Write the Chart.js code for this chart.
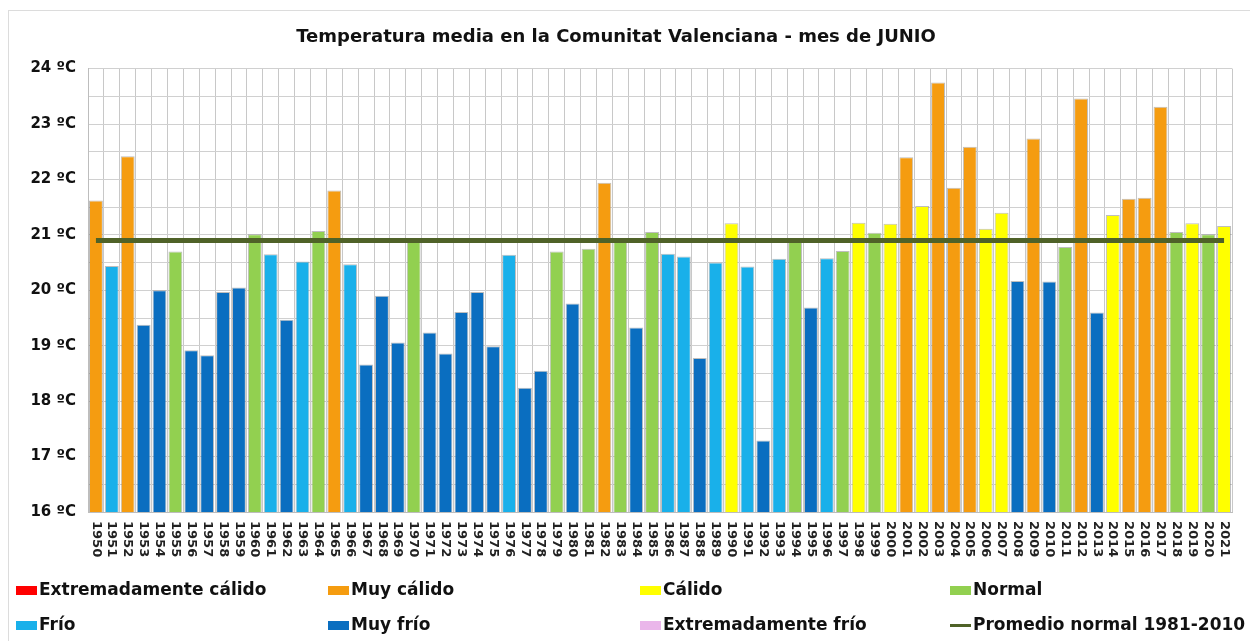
<!DOCTYPE html>
<html><head><meta charset="utf-8">
<script src="https://cdn.jsdelivr.net/npm/chart.js@4.4.1/dist/chart.umd.min.js"></script>
<style>html,body{margin:0;padding:0;background:#fff}#wrap{width:1250px;height:641px;position:relative}</style>
</head><body><div id="wrap"><canvas id="c" width="1250" height="641"></canvas></div>
<script>
// ---------- DATA ----------
const chartTitle = 'Temperatura media en la Comunitat Valenciana - mes de JUNIO';
const years = [1950,1951,1952,1953,1954,1955,1956,1957,1958,1959,
  1960,1961,1962,1963,1964,1965,1966,1967,1968,1969,
  1970,1971,1972,1973,1974,1975,1976,1977,1978,1979,
  1980,1981,1982,1983,1984,1985,1986,1987,1988,1989,
  1990,1991,1992,1993,1994,1995,1996,1997,1998,1999,
  2000,2001,2002,2003,2004,2005,2006,2007,2008,2009,
  2010,2011,2012,2013,2014,2015,2016,2017,2018,2019,
  2020,2021];
const temps = [21.62,20.44,22.42,19.38,20.00,20.70,18.92,18.83,19.97,20.05,
  21.01,20.65,19.47,20.52,21.07,21.80,20.47,18.66,19.90,19.06,
  20.88,19.24,18.86,19.61,19.97,18.99,20.64,18.24,18.55,20.70,
  19.76,20.75,21.94,20.88,19.33,21.05,20.66,20.61,18.78,20.50,
  21.21,20.43,17.29,20.57,20.88,19.69,20.58,20.71,21.22,21.04,
  21.20,22.40,21.52,23.75,21.85,22.59,21.11,21.40,20.17,22.74,
  20.16,20.78,23.46,19.60,21.36,21.65,21.67,23.31,21.05,21.21,
  21.01,21.16];
// classification of each year
const classes = ['Muy cálido','Frío','Muy cálido','Muy frío','Muy frío','Normal','Muy frío','Muy frío','Muy frío','Muy frío',
  'Normal','Frío','Muy frío','Frío','Normal','Muy cálido','Frío','Muy frío','Muy frío','Muy frío',
  'Normal','Muy frío','Muy frío','Muy frío','Muy frío','Muy frío','Frío','Muy frío','Muy frío','Normal',
  'Muy frío','Normal','Muy cálido','Normal','Muy frío','Normal','Frío','Frío','Muy frío','Frío',
  'Cálido','Frío','Muy frío','Frío','Normal','Muy frío','Frío','Normal','Cálido','Normal',
  'Cálido','Muy cálido','Cálido','Muy cálido','Muy cálido','Muy cálido','Cálido','Cálido','Muy frío','Muy cálido',
  'Muy frío','Normal','Muy cálido','Muy frío','Cálido','Muy cálido','Muy cálido','Muy cálido','Normal','Cálido',
  'Normal','Cálido'];
const normalValue = 20.9;
const normalName = 'Promedio normal 1981-2010';
const legendNames = ['Extremadamente cálido','Muy cálido','Cálido','Normal','Frío','Muy frío','Extremadamente frío'];
const yMin = 16, yMax = 24, yUnit = ' ºC';

// ---------- STYLE ----------
const classColors = {
  'Extremadamente cálido':'#FF0000',
  'Muy cálido':'#F59C10',
  'Cálido':'#FFFF00',
  'Normal':'#92D050',
  'Frío':'#19B0EA',
  'Muy frío':'#0A6EC0',
  'Extremadamente frío':'#EAB6EA'
};
const lineColor = '#4F6228';
const FONT = '"DejaVu Sans", Verdana, sans-serif';

const customDraw = {
  id:'customDraw',
  beforeDraw(chart){
    const ctx = chart.ctx;
    ctx.save();
    ctx.fillStyle = '#fff';
    ctx.fillRect(0,0,chart.width,chart.height);
    ctx.strokeStyle = '#dcdcdc';
    ctx.lineWidth = 1;
    ctx.strokeRect(8.5,10.5,chart.width-8,chart.height-8);
    ctx.restore();
  },
  afterDraw(chart){
    const ctx = chart.ctx, xs = chart.scales.x, area = chart.chartArea;
    ctx.save();
    ctx.font = 'bold 13px ' + FONT;
    ctx.fillStyle = '#222';
    ctx.textAlign = 'left';
    ctx.textBaseline = 'middle';
    years.forEach((y,i)=>{
      const x = xs.getPixelForValue(i);
      ctx.save();
      ctx.translate(x, area.bottom + 9);
      ctx.rotate(Math.PI/2);
      ctx.fillText(String(y), 0, 0);
      ctx.restore();
    });
    // legend
    const cols = [16, 328, 640, 950];
    const rows = [590, 625];
    const items = legendNames.map(n => ({name:n, color:classColors[n], type:'box'}));
    items.push({name:normalName, color:lineColor, type:'line'});
    ctx.font = 'bold 17px ' + FONT;
    items.forEach((it, k)=>{
      const cx = cols[k % 4], cy = rows[Math.floor(k / 4)];
      ctx.fillStyle = it.color;
      if (it.type === 'box') {
        ctx.fillRect(cx, cy-4, 21, 9);
      } else {
        ctx.fillRect(cx, cy-1, 21, 3);
      }
      ctx.fillStyle = '#111';
      ctx.fillText(it.name, cx + 23, cy + 1);
    });
    ctx.restore();
  }
};

new Chart(document.getElementById('c'), {
  data: {
    labels: years.map(String),
    datasets: [
      {
        type:'line',
        label: normalName,
        data: years.map(() => normalValue),
        borderColor: lineColor,
        borderWidth: 5,
        pointRadius: 0,
        order: 0
      },
      {
        type:'bar',
        label: 'Temperatura',
        data: temps,
        backgroundColor: classes.map(c => classColors[c]),
        borderColor: 'rgba(110,110,110,0.45)',
        borderWidth: 1,
        categoryPercentage: 0.9,
        barPercentage: 0.97,
        order: 1
      }
    ]
  },
  options: {
    responsive: false,
    animation: false,
    layout: { padding: { left: 0, right: 18, top: 0, bottom: 0 } },
    plugins: {
      legend: { display: false },
      tooltip: { enabled: false },
      title: {
        display: true,
        text: chartTitle,
        color: '#111',
        font: { family: FONT, size: 18, weight: 'bold' },
        padding: { top: 27, bottom: 20 }
      }
    },
    scales: {
      x: {
        type: 'category',
        offset: true,
        grid: { color: '#c8c8c8', offset: true, drawTicks: false },
        border: { color: '#bdbdbd' },
        ticks: { display: false },
        afterFit: s => { s.height = 129; }
      },
      y: {
        min: yMin, max: yMax,
        grid: { color: '#d0d0d0', drawTicks: false },
        border: { color: '#bdbdbd' },
        ticks: {
          stepSize: 0.5,
          autoSkip: false,
          padding: 12,
          color: '#111',
          font: { family: FONT, size: 15, weight: 'bold' },
          callback: v => Number.isInteger(v) ? v + yUnit : ''
        },
        afterFit: s => { s.width = 88; }
      }
    }
  },
  plugins: [customDraw]
});
</script>
</body></html>
